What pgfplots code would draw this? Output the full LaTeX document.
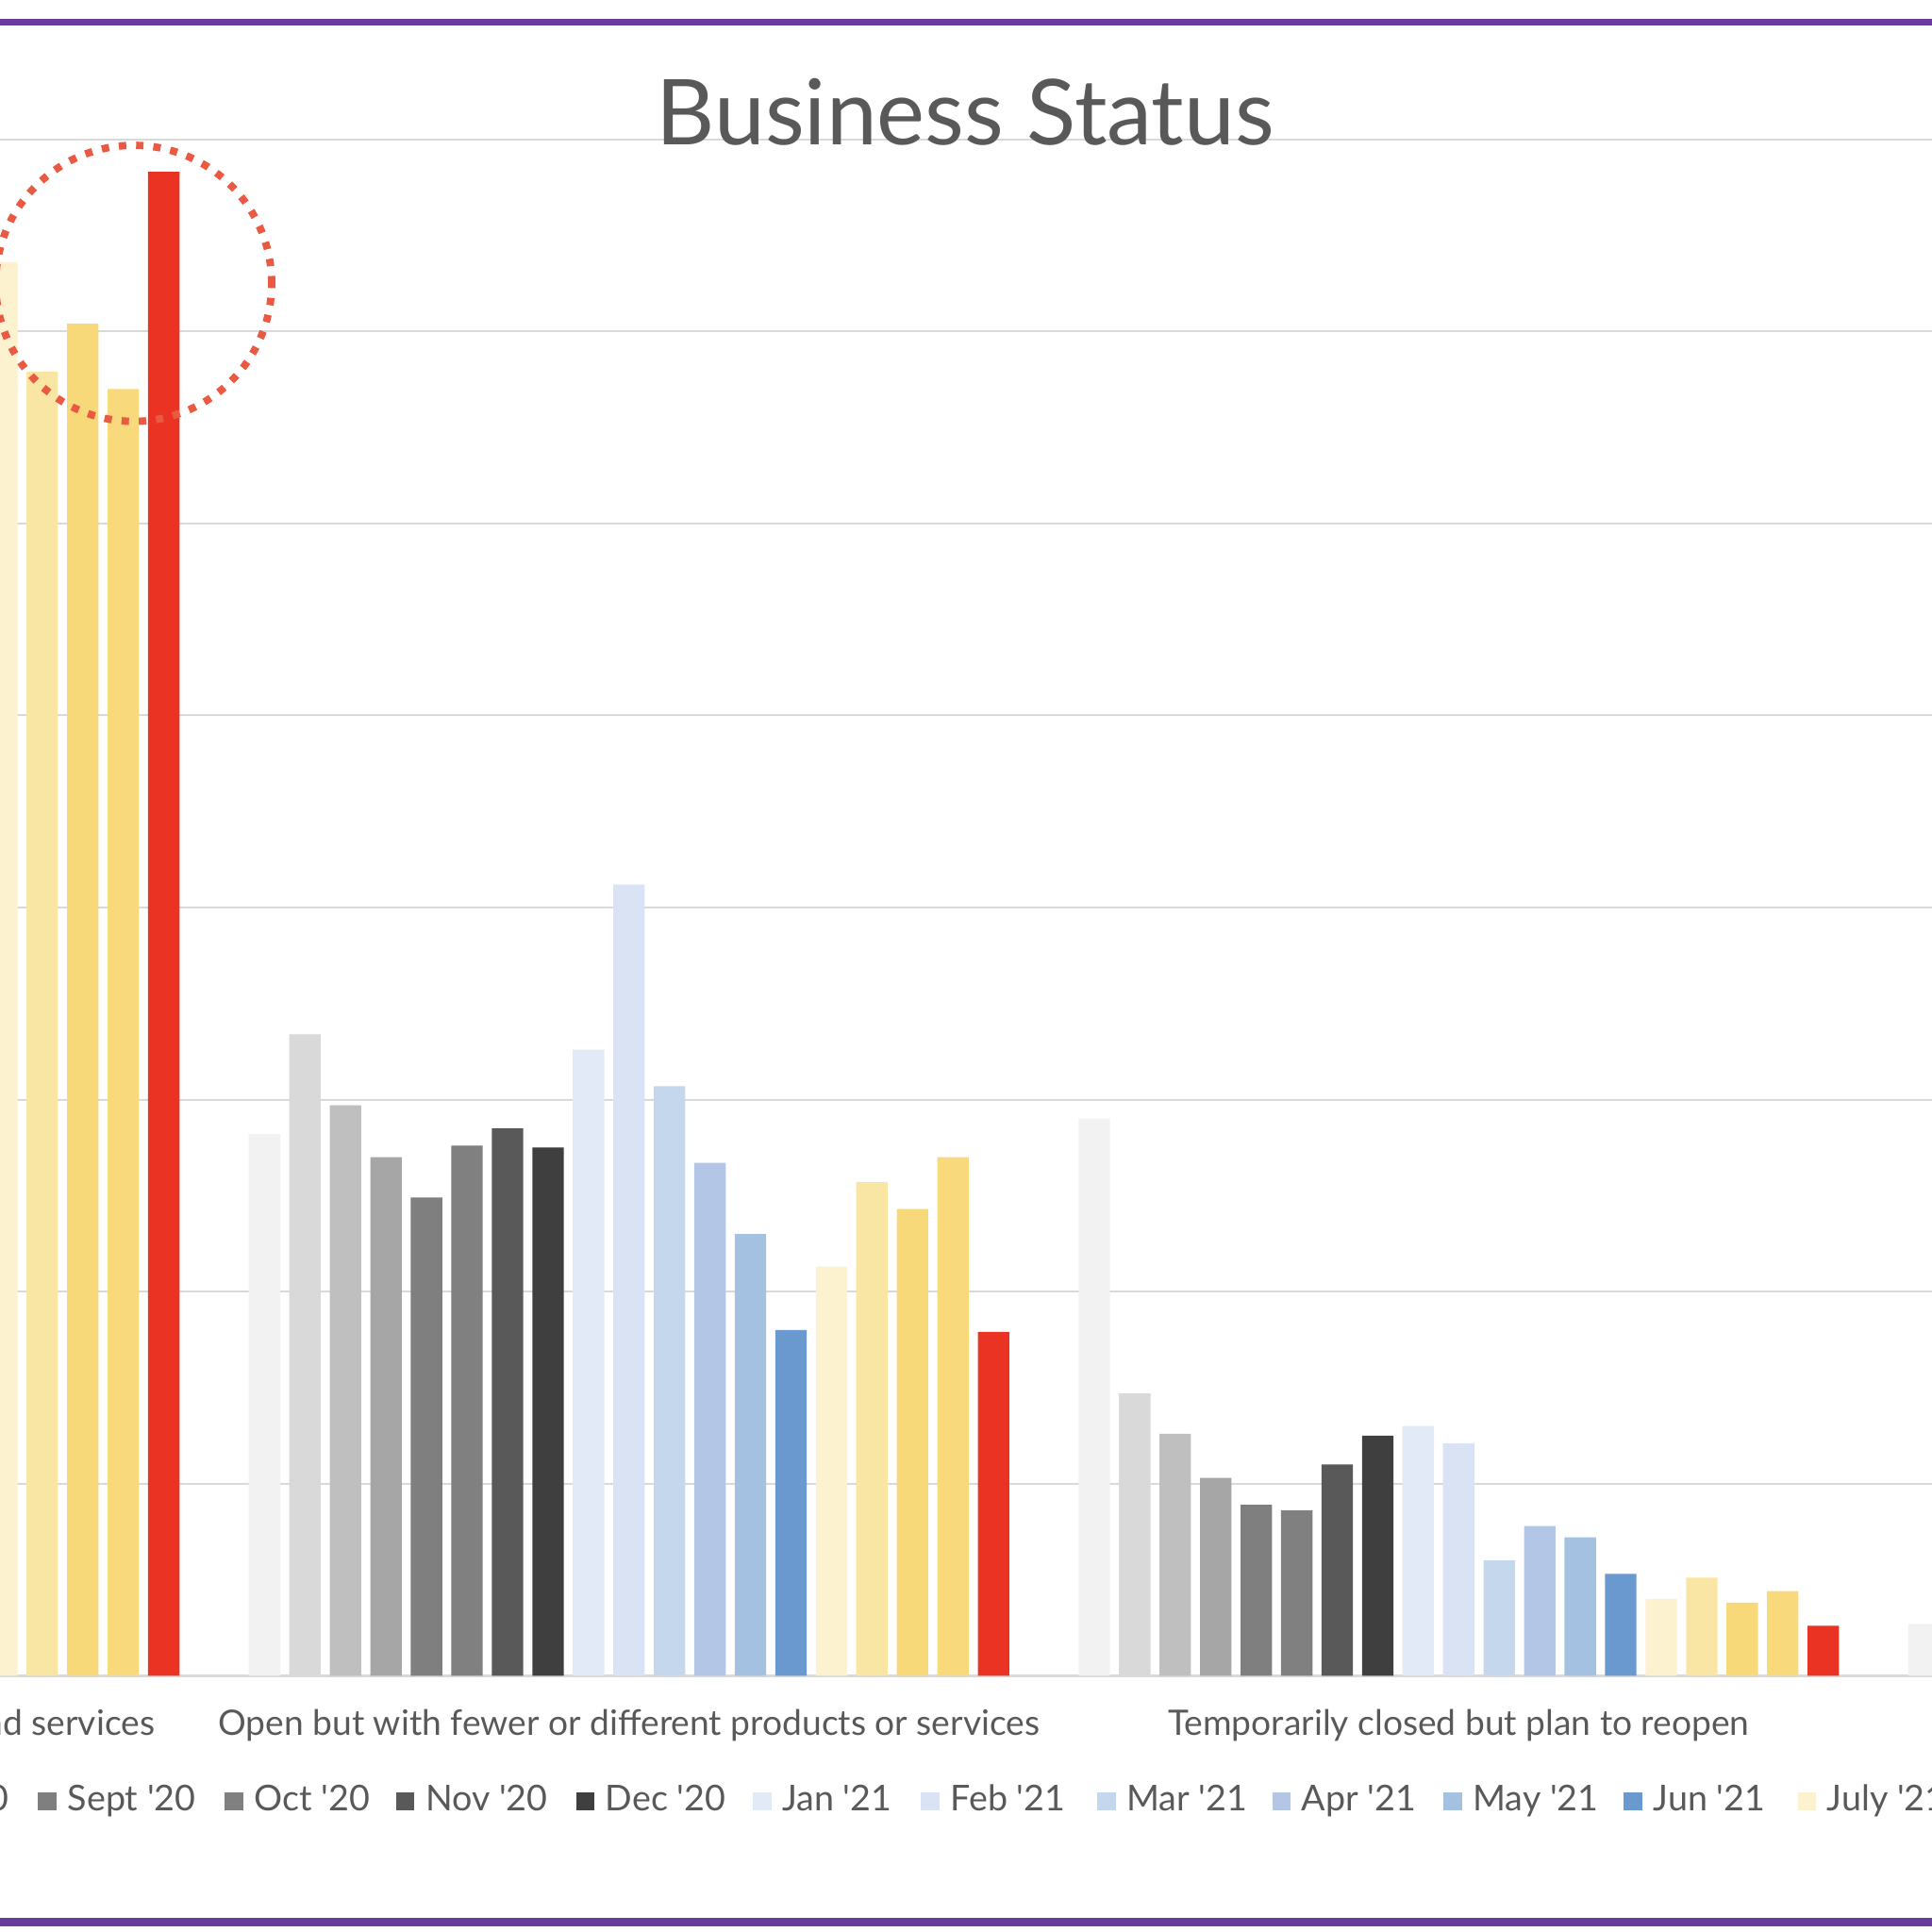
\documentclass[border=0pt]{standalone}
\usepackage{fontspec}
\setmainfont{Lato}
\usepackage{pgfplots}
\usepackage{pgfplotstable}
\pgfplotsset{compat=1.18}

\definecolor{c1}{HTML}{F2F2F2}
\definecolor{c2}{HTML}{D9D9D9}
\definecolor{c3}{HTML}{BFBFBF}
\definecolor{c4}{HTML}{A6A6A6}
\definecolor{c5}{HTML}{7F7F7F}
\definecolor{c6}{HTML}{808080}
\definecolor{c7}{HTML}{595959}
\definecolor{c8}{HTML}{3F3F3F}
\definecolor{c9}{HTML}{E1EAF6}
\definecolor{c10}{HTML}{DAE3F3}
\definecolor{c11}{HTML}{C4D7EC}
\definecolor{c12}{HTML}{B4C6E5}
\definecolor{c13}{HTML}{A5C1E2}
\definecolor{c14}{HTML}{6A99D0}
\definecolor{c15}{HTML}{FDF2D0}
\definecolor{c16}{HTML}{FAE6A4}
\definecolor{c17}{HTML}{F8D97A}
\definecolor{c18}{HTML}{F8DA7C}
\definecolor{c19}{HTML}{EA3323}
\definecolor{gridgray}{HTML}{D9D9D9}
\definecolor{textgray}{HTML}{595959}
\definecolor{ringred}{HTML}{EA5A43}
\definecolor{frame}{HTML}{6B3A9E}

% share of businesses (%) per status group, one column per survey month
\pgfplotstableread{
g  s1   s2   s3   s4   s5   s6   s7   s8   s9   s10  s11  s12  s13  s14  s15  s16  s17  s18  s19
0  40.1 49.8 55.8 60.5 64.4 61.8 58.2 58.1 52.3 45.0 61.5 63.9 68.3 75.3 73.6 67.9 70.4 67.0 78.3
1  28.2 33.4 29.7 27.0 24.9 27.6 28.5 27.5 32.6 41.2 30.7 26.7 23.0 18.0 21.3 25.7 24.3 27.0 17.9
2  29.0 14.7 12.6 10.3  8.9  8.6 11.0 12.5 13.0 12.1  6.0  7.8  7.2  5.3  4.0  5.1  3.8  4.4  2.6
3   2.7  2.1  1.9  2.2  1.8  2.0  2.3  1.9  2.1  1.7  1.8  1.6  1.5  1.4  1.1  1.3  1.5  1.6  1.2
}\statusdata

\newcommand{\q}{\textquotesingle}
\newcommand{\entry}[2]{\hspace*{0.09cm}\makebox[#1cm][l]{#2}}

\begin{document}
\begin{tikzpicture}
\path[use as bounding box] (0,0) rectangle (15.68,15.68);
\clip (0,0) rectangle (15.68,15.68);

\begin{axis}[
    at={(-4.996cm,2.08cm)}, anchor=south west,
    width=26.936cm, height=12.47cm, scale only axis,
    ybar=0.0737cm, bar width=0.255cm,
    xmin=-0.5, xmax=3.5, ymin=0, ymax=80,
    enlargelimits=false,
    axis x line*=bottom, axis y line*=left,
    x axis line style={draw=gridgray, line width=0.02cm, -},
    y axis line style={draw=none},
    xtick={0,1,2,3},
    xticklabels={Open and offering usual products and services,
                 Open but with fewer or different products or services,
                 Temporarily closed but plan to reopen,
                 Permanently closed},
    xticklabel style={font=\fontsize{8.1}{10}\selectfont, text=textgray,
                      anchor=north, inner sep=0pt, yshift=-0.27cm},
    major tick length=0pt,
    ytick={0,10,...,80},
    /pgf/number format/assume math mode=true,
    yticklabel={\pgfmathprintnumber{\tick}\%},
    yticklabel style={font=\fontsize{8.1}{10}\selectfont, text=textgray},
    ymajorgrids,
    major grid style={draw=gridgray, line width=0.015cm},
    legend columns=19,
    legend cell align=left,
    legend image code/.code={\fill[#1, draw=none] (0cm,-0.075cm) rectangle (0.15cm,0.075cm);},
    legend style={draw=none, fill=none, inner sep=0pt, outer sep=0pt,
                  nodes={inner sep=0pt},
                  at={(0,0)}, anchor=west, xshift=-0.394cm, yshift=-1.02cm,
                  font=\fontsize{8.2}{10}\selectfont, text=textgray},
]
\addplot[fill=c1, draw=none] table[x=g, y=s1] {\statusdata};
\addlegendentry{\entry{1.21}{May \q20}}
\addplot[fill=c2, draw=none] table[x=g, y=s2] {\statusdata};
\addlegendentry{\entry{1.15}{Jun \q20}}
\addplot[fill=c3, draw=none] table[x=g, y=s3] {\statusdata};
\addlegendentry{\entry{1.17}{July \q20}}
\addplot[fill=c4, draw=none] table[x=g, y=s4] {\statusdata};
\addlegendentry{\entry{1.21}{Aug \q20}}
\addplot[fill=c5, draw=none] table[x=g, y=s5] {\statusdata};
\addlegendentry{\entry{1.275}{Sept \q20}}
\addplot[fill=c6, draw=none] table[x=g, y=s6] {\statusdata};
\addlegendentry{\entry{1.15}{Oct \q20}}
\addplot[fill=c7, draw=none] table[x=g, y=s7] {\statusdata};
\addlegendentry{\entry{1.22}{Nov \q20}}
\addplot[fill=c8, draw=none] table[x=g, y=s8] {\statusdata};
\addlegendentry{\entry{1.195}{Dec \q20}}
\addplot[fill=c9, draw=none] table[x=g, y=s9] {\statusdata};
\addlegendentry{\entry{1.125}{Jan \q21}}
\addplot[fill=c10, draw=none] table[x=g, y=s10] {\statusdata};
\addlegendentry{\entry{1.19}{Feb \q21}}
\addplot[fill=c11, draw=none] table[x=g, y=s11] {\statusdata};
\addlegendentry{\entry{1.18}{Mar \q21}}
\addplot[fill=c12, draw=none] table[x=g, y=s12] {\statusdata};
\addlegendentry{\entry{1.15}{Apr \q21}}
\addplot[fill=c13, draw=none] table[x=g, y=s13] {\statusdata};
\addlegendentry{\entry{1.225}{May \q21}}
\addplot[fill=c14, draw=none] table[x=g, y=s14] {\statusdata};
\addlegendentry{\entry{1.17}{Jun \q21}}
\addplot[fill=c15, draw=none] table[x=g, y=s15] {\statusdata};
\addlegendentry{\entry{1.17}{July \q21}}
\addplot[fill=c16, draw=none] table[x=g, y=s16] {\statusdata};
\addlegendentry{\entry{1.21}{Aug \q21}}
\addplot[fill=c17, draw=none] table[x=g, y=s17] {\statusdata};
\addlegendentry{\entry{1.275}{Sept \q21}}
\addplot[fill=c18, draw=none] table[x=g, y=s18] {\statusdata};
\addlegendentry{\entry{1.15}{Oct \q21}}
\addplot[fill=c19, draw=none] table[x=g, y=s19] {\statusdata};
\addlegendentry{\entry{1.22}{Nov \q21}}
\end{axis}

% chart title
\node[anchor=base, inner sep=0pt, text=textgray, font=\fontsize{21}{25}\selectfont]
  at (7.835,14.506) {Business Status};

% highlight ring round the latest bars
\draw[ringred, line width=0.06cm, dash pattern=on 0.06cm off 0.08cm]
  (1.085,13.38) circle (1.12cm);

% slide rules
\draw[frame, line width=0.054cm] (0,15.50) -- (15.68,15.50);
\draw[frame, line width=0.064cm] (0,0.08) -- (15.68,0.08);
\end{tikzpicture}
\end{document}
